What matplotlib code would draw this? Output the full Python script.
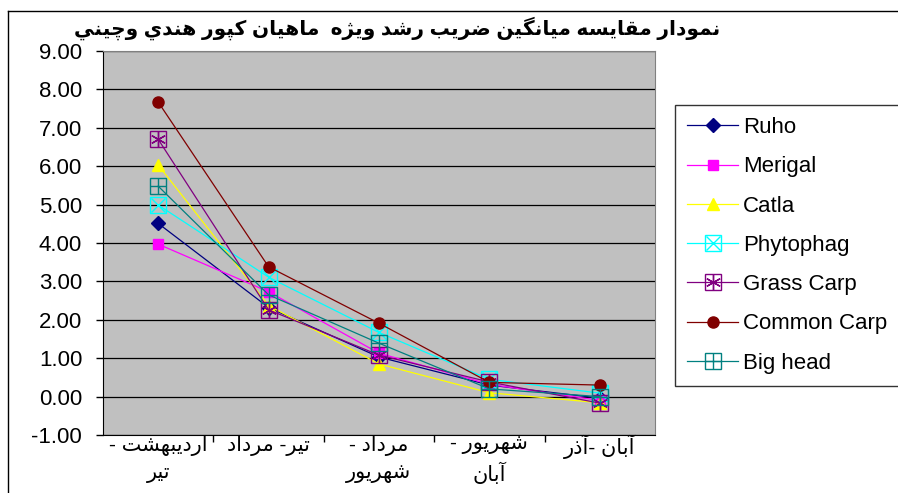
import re
import matplotlib
matplotlib.use("Agg")
import matplotlib.pyplot as plt
from matplotlib.lines import Line2D

# ---------------------------------------------------------
# Data: mean specific growth rate per period
# ---------------------------------------------------------
periods = ["اردیبهشت -\nتیر", "تیر- مرداد", "مرداد -\nشهریور", "شهریور -\nآبان", "آبان -آذر"]
title_text = "نمودار مقایسه میانگین ضریب رشد ویژه  ماهیان کپور هندي وچیني"

ruho = [4.51, 2.32, 1.03, 0.30, -0.04]
merigal = [3.97, 2.73, 1.13, 0.32, -0.10]
catla = [6.03, 2.37, 0.85, 0.10, -0.16]
phytophag = [4.99, 3.11, 1.67, 0.45, 0.09]
grass_carp = [6.70, 2.26, 1.08, 0.38, -0.17]
common_carp = [7.67, 3.38, 1.91, 0.37, 0.30]
big_head = [5.48, 2.65, 1.39, 0.20, 0.00]

y_ticks = [-1, 0, 1, 2, 3, 4, 5, 6, 7, 8, 9]

# ---------------------------------------------------------
# Minimal Persian shaping (presentation forms) + reordering
# ---------------------------------------------------------
FORMS = {
    "ا": ("\uFE8D", "\uFE8E"), "آ": ("\uFE81", "\uFE82"),
    "د": ("\uFEA9", "\uFEAA"), "ذ": ("\uFEAB", "\uFEAC"),
    "ر": ("\uFEAD", "\uFEAE"), "ژ": ("\uFB8A", "\uFB8B"),
    "و": ("\uFEED", "\uFEEE"),
    "ب": ("\uFE8F", "\uFE90", "\uFE91", "\uFE92"),
    "پ": ("\uFB56", "\uFB57", "\uFB58", "\uFB59"),
    "ت": ("\uFE95", "\uFE96", "\uFE97", "\uFE98"),
    "چ": ("\uFB7A", "\uFB7B", "\uFB7C", "\uFB7D"),
    "س": ("\uFEB1", "\uFEB2", "\uFEB3", "\uFEB4"),
    "ش": ("\uFEB5", "\uFEB6", "\uFEB7", "\uFEB8"),
    "ض": ("\uFEBD", "\uFEBE", "\uFEBF", "\uFEC0"),
    "ق": ("\uFED5", "\uFED6", "\uFED7", "\uFED8"),
    "ک": ("\uFB8E", "\uFB8F", "\uFB90", "\uFB91"),
    "گ": ("\uFB92", "\uFB93", "\uFB94", "\uFB95"),
    "ل": ("\uFEDD", "\uFEDE", "\uFEDF", "\uFEE0"),
    "م": ("\uFEE1", "\uFEE2", "\uFEE3", "\uFEE4"),
    "ن": ("\uFEE5", "\uFEE6", "\uFEE7", "\uFEE8"),
    "ه": ("\uFEE9", "\uFEEA", "\uFEEB", "\uFEEC"),
    "ی": ("\uFBFC", "\uFBFD", "\uFBFE", "\uFBFF"),
    "ي": ("\uFEF1", "\uFEF2", "\uFEF3", "\uFEF4"),
}


def shape(word):
    out = []
    for i, ch in enumerate(word):
        if ch not in FORMS:
            out.append(ch)
            continue
        prev = word[i - 1] if i > 0 else ""
        nxt = word[i + 1] if i + 1 < len(word) else ""
        join_prev = prev in FORMS and len(FORMS[prev]) == 4
        join_next = len(FORMS[ch]) == 4 and nxt in FORMS
        f = FORMS[ch]
        if join_prev and join_next:
            out.append(f[3])
        elif join_prev:
            out.append(f[1])
        elif join_next:
            out.append(f[2])
        else:
            out.append(f[0])
    return "".join(out)


def rtl(text):
    # whole line right-to-left, one line at a time
    return "\n".join(shape(s)[::-1] for s in text.split("\n"))


plt.rcParams["font.family"] = ["Liberation Sans", "DejaVu Sans"]

fig = plt.figure(figsize=(8.98, 4.93), dpi=100)
ax = fig.add_axes([103 / 898, 1 - 435 / 493, 552 / 898, 384 / 493])
ax.set_facecolor("#C0C0C0")

x = list(range(len(periods)))
lw = 0.9

h_ruho, = ax.plot(x, ruho, color="#000080", lw=lw, marker="D", ms=7,
                  mfc="#000080", mec="#000080", label="Ruho")
h_mer, = ax.plot(x, merigal, color="#FF00FF", lw=lw, marker="s", ms=7.5,
                 mfc="#FF00FF", mec="#FF00FF", label="Merigal")
h_cat, = ax.plot(x, catla, color="#FFFF00", lw=lw, marker="^", ms=9,
                 mfc="#FFFF00", mec="#FFFF00", label="Catla")
h_phy, = ax.plot(x, phytophag, color="#00FFFF", lw=lw, marker="s", ms=12,
                 mfc="none", mec="#00FFFF", mew=1, label="Phytophag")
h_phy2, = ax.plot(x, phytophag, ls="none", marker="x", ms=10, mec="#00FFFF", mew=1)
h_gc, = ax.plot(x, grass_carp, color="#800080", lw=lw, marker="s", ms=12,
                mfc="none", mec="#800080", mew=1, label="Grass Carp")
h_gc2, = ax.plot(x, grass_carp, ls="none", marker=(6, 2, 0), ms=11, mec="#800080", mew=1)
h_cc, = ax.plot(x, common_carp, color="#800000", lw=lw, marker="o", ms=8,
                mfc="#800000", mec="#800000", label="Common Carp")
h_bh, = ax.plot(x, big_head, color="#008080", lw=lw, marker="s", ms=12,
                mfc="none", mec="#008080", mew=1, label="Big head")
h_bh2, = ax.plot(x, big_head, ls="none", marker="+", ms=11, mec="#008080", mew=1)

ax.set_xlim(-0.5, len(periods) - 0.5)
ax.set_ylim(-1, 9)
ax.set_yticks(y_ticks)
ax.set_yticklabels([f"{v:.2f}" for v in y_ticks], fontsize=16)
ax.yaxis.grid(True, color="black", lw=0.9)
ax.set_axisbelow(True)

# category boundaries carry the tick marks, labels sit at the centres
ax.set_xticks([i + 0.5 for i in range(len(periods) - 1)])
ax.set_xticklabels([])
ax.tick_params(axis="x", direction="out", length=5, width=1)
ax.tick_params(axis="y", direction="out", length=5, width=1, pad=10)
for i, lab in enumerate(periods):
    ax.text(i, -1.0, rtl(lab), transform=ax.transData, ha="center", va="top",
            fontsize=15, linespacing=1.45)

for side in ["top", "right"]:
    ax.spines[side].set_color("#808080")
for side in ["left", "bottom"]:
    ax.spines[side].set_color("black")

fig.text(397 / 898, 1 - 28 / 493, rtl(title_text), ha="center", va="center",
         fontsize=14.5, fontweight="bold")

# outer chart frame
fig.add_artist(Line2D([8 / 898, 8 / 898], [0, 1 - 11 / 493], color="black", lw=1))
fig.add_artist(Line2D([8 / 898, 1], [1 - 11 / 493, 1 - 11 / 493], color="black", lw=1))

leg = fig.legend(
    [h_ruho, h_mer, h_cat, (h_phy, h_phy2), (h_gc, h_gc2), h_cc, (h_bh, h_bh2)],
    ["Ruho", "Merigal", "Catla", "Phytophag", "Grass Carp", "Common Carp", "Big head"],
    loc="upper left", bbox_to_anchor=(675 / 898, 1 - 105 / 493),
    fontsize=16, frameon=True, fancybox=False, numpoints=1,
    handlelength=2.3, handletextpad=0.2, labelspacing=0.82, borderpad=0.55,
    borderaxespad=0,
)
leg.get_frame().set_edgecolor("black")
leg.get_frame().set_linewidth(1)

fig.savefig("out.png", dpi=100)
